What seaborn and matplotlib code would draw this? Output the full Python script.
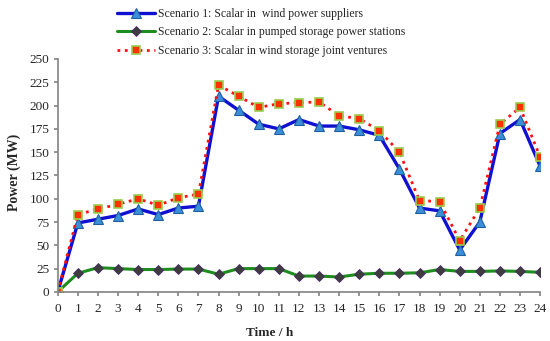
import numpy as np
import pandas as pd
import matplotlib
matplotlib.use("Agg")
import matplotlib.pyplot as plt
import seaborn as sns

sns.set_theme(style="ticks")
plt.rcParams['font.family'] = ['Liberation Serif', 'DejaVu Serif']

hours = list(range(25))
scenario1 = [0, 74, 78, 82, 89, 83, 90, 92, 210, 195, 180, 175, 185, 178, 178, 174,
             168, 132, 90, 87, 45, 75, 170, 185, 135]
scenario2 = [0, 20, 26, 25, 24, 24, 24.5, 24.5, 19, 25, 25, 25, 17, 17, 16, 19,
             20, 20, 20.5, 24, 22, 22, 22.5, 22, 21]
scenario3 = [0, 83, 89, 94, 100, 93, 101, 105, 222, 210, 198, 202, 203, 204, 189, 186,
             173, 150, 98, 97, 55, 90, 180, 198, 145]
labels = ["Scenario 1: Scalar in  wind power suppliers",
          "Scenario 2: Scalar in pumped storage power stations",
          "Scenario 3: Scalar in wind storage joint ventures"]

fig = plt.figure(figsize=(5.5, 3.41), dpi=100)
ax = fig.add_axes([0.105, 0.144, 0.877, 0.683])

sns.lineplot(x=hours, y=scenario1, ax=ax, color='#1010d0', linewidth=2.4,
             marker='^', markersize=7, markerfacecolor='#3a8fd8',
             markeredgecolor='#1f5fa0', markeredgewidth=0.8, label=labels[0])
sns.lineplot(x=hours, y=scenario2, ax=ax, color='#1e8c1e', linewidth=2.2,
             marker='D', markersize=5, markerfacecolor='#3d3d3d',
             markeredgecolor='#4a2a6a', markeredgewidth=0.6, label=labels[1])
sns.lineplot(x=hours, y=scenario3, ax=ax, color='#ff1010', linewidth=2,
             linestyle=':', marker='s', markersize=6, markerfacecolor='#ff3300',
             markeredgecolor='#9acd50', markeredgewidth=1.2, label=labels[2])

ax.set_xlim(0, 24)
ax.set_ylim(0, 250)
ax.set_xticks(range(0, 25))
ax.set_yticks(range(0, 251, 25))
ax.tick_params(labelsize=9.5, length=3, color='#888888', pad=3)
ax.tick_params(axis='x', pad=5)
for s in ['top', 'right']:
    ax.spines[s].set_visible(False)
for s in ['left', 'bottom']:
    ax.spines[s].set_color('#888888')
ax.set_xlabel('Time / h', fontsize=9.5, fontweight='bold')
ax.set_ylabel('Power (MW)', fontsize=10, fontweight='bold')
ax.xaxis.set_label_coords(0.44, -0.15)
ax.yaxis.set_label_coords(-0.076, 0.515)
ax.margins(x=0)

ax.get_legend().remove()
h, l = ax.get_legend_handles_labels()
fig.legend(h, l, loc='upper left', bbox_to_anchor=(117 / 550, 1 - 8 / 341),
           frameon=False, fontsize=8.5, handlelength=3.2, handletextpad=0.3,
           labelspacing=0.55, borderpad=0, borderaxespad=0)

fig.savefig('out.png', dpi=100)
